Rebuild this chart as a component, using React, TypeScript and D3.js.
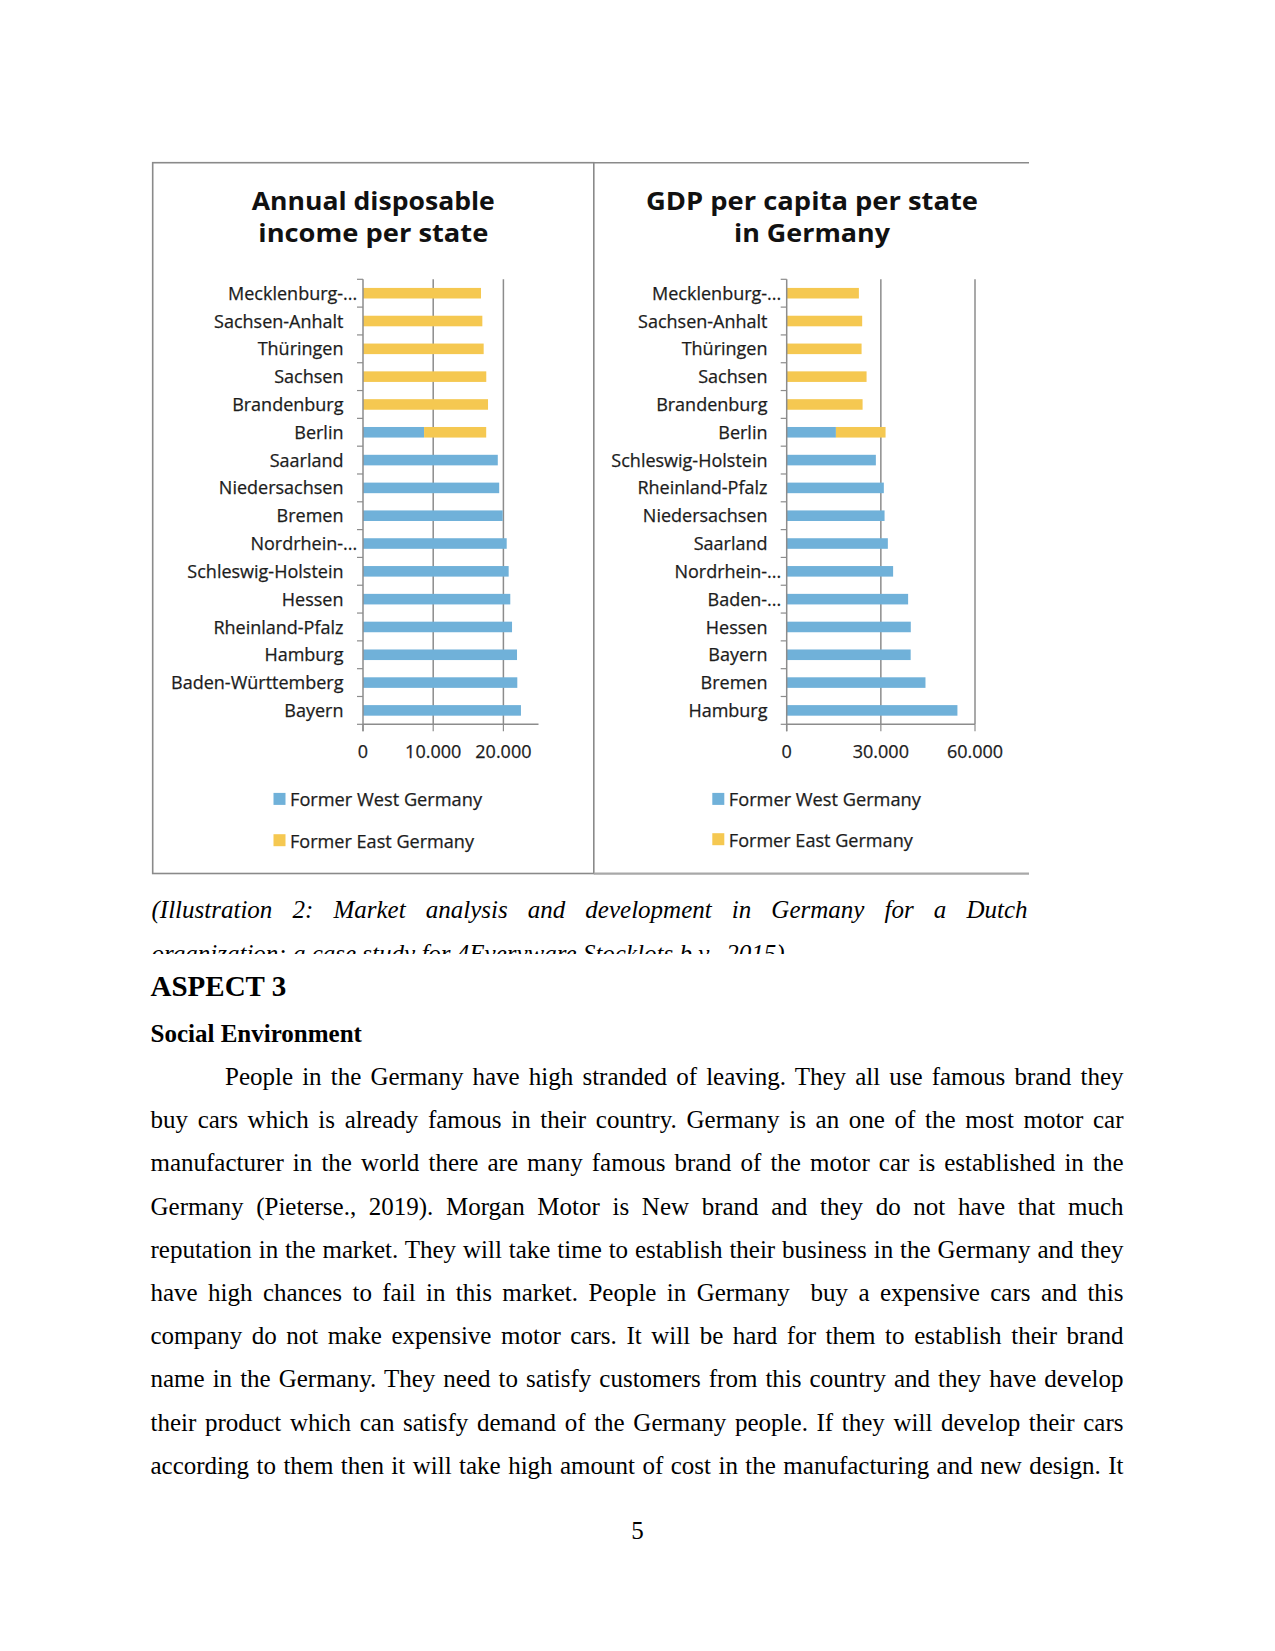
import React, { useEffect, useRef } from "react";
import * as d3 from "d3";

// ---------- DATA ----------
const incomeStates = [
  "Mecklenburg-...", "Sachsen-Anhalt", "Thüringen", "Sachsen", "Brandenburg", "Berlin",
  "Saarland", "Niedersachsen", "Bremen", "Nordrhein-...", "Schleswig-Holstein", "Hessen",
  "Rheinland-Pfalz", "Hamburg", "Baden-Württemberg", "Bayern",
];
const incomeWest = [0, 0, 0, 0, 0, 8700, 19200, 19400, 19900, 20470, 20750, 20980, 21230, 21940, 21980, 22500];
const incomeEast = [16810, 17000, 17190, 17560, 17810, 8850, 0, 0, 0, 0, 0, 0, 0, 0, 0, 0];
const incomeTicks = [0, 10000, 20000];
const incomeMax = 25000;

const gdpStates = [
  "Mecklenburg-...", "Sachsen-Anhalt", "Thüringen", "Sachsen", "Brandenburg", "Berlin",
  "Schleswig-Holstein", "Rheinland-Pfalz", "Niedersachsen", "Saarland", "Nordrhein-...",
  "Baden-...", "Hessen", "Bayern", "Bremen", "Hamburg",
];
const gdpWest = [0, 0, 0, 0, 0, 15680, 28410, 30950, 31180, 32230, 33910, 38690, 39540, 39500, 44220, 54400];
const gdpEast = [23000, 24050, 23860, 25450, 24180, 15820, 0, 0, 0, 0, 0, 0, 0, 0, 0, 0];
const gdpTicks = [0, 30000, 60000];
const gdpMax = 60000;

const seriesKeys = ["west", "east"];
const seriesNames = ["Former West Germany", "Former East Germany"];
const seriesColors = ["#70b1d9", "#f5c851"];
const legendTextWidths = [192, 184];

const incomeTitle = ["Annual disposable", "income per state"];
const incomeTitleWidths = [243, 230];
const gdpTitle = ["GDP per capita per state", "in Germany"];
const gdpTitleWidths = [332, 156];

const captionLine1 = "(Illustration 2: Market analysis and development in Germany for a Dutch";
const captionLine2 = "organization: a case study for 4Everyware Stocklots b.v., 2015)";
const headingText = "ASPECT 3";
const subheadingText = "Social Environment";
const bodyLines = [
  "People in the Germany have high stranded of leaving. They all use famous brand they",
  "buy cars which is already famous in their country. Germany is an one of the most motor car",
  "manufacturer in the world there are many famous brand of the motor car is established in the",
  "Germany (Pieterse., 2019). Morgan Motor is New brand and they do not have that much",
  "reputation in the market. They will take time to establish their business in the Germany and they",
  "have high chances to fail in this market. People in Germany  buy a expensive cars and this",
  "company do not make expensive motor cars. It will be hard for them to establish their brand",
  "name in the Germany. They need to satisfy customers from this country and they have develop",
  "their product which can satisfy demand of the Germany people. If they will develop their cars",
  "according to them then it will take high amount of cost in the manufacturing and new design. It",
];
const pageNumber = "5";

// ---------- HELPERS ----------
const fmtTick = (v: number) => (v === 0 ? "0" : d3.format(",")(v).replace(/,/g, "."));
const CHART_FONT = "'Open Sans', 'Noto Sans', sans-serif";
const SERIF = "'Liberation Serif', 'Times New Roman', serif";
const LABEL_COLOR = "#1c1c1c";

type PanelProps = {
  states: string[];
  west: number[];
  east: number[];
  ticks: number[];
  max: number;
  x0: number;
  x1: number;
  labelRight: number;
  title: string[];
  titleWidths: number[];
  titleX: number;
  legendX: number;
  legendY: number[];
};

function Panel(p: PanelProps) {
  const top = 279.3;
  const bottom = 724.3;
  const x = d3.scaleLinear().domain([0, p.max]).range([p.x0, p.x1]);
  const y = d3
    .scaleBand<string>()
    .domain(p.states)
    .range([top, bottom])
    .paddingInner(0.62)
    .paddingOuter(0.31);
  const rows = p.states.map((s, i) => ({ state: s, west: p.west[i], east: p.east[i] }));
  const stacked = d3.stack<any>().keys(seriesKeys)(rows);
  const boundaries = d3.range(p.states.length + 1).map((i) => y.range()[0] + i * y.step());
  const axisColor = "#8c8c8c";

  return (
    <g>
      {/* title */}
      {p.title.map((t, i) => (
        <text
          key={t}
          x={p.titleX}
          y={210 + i * 31.7}
          textAnchor="middle"
          fontFamily={CHART_FONT}
          fontWeight={700}
          fontSize={25.5}
          fill="#111"
          textLength={p.titleWidths[i]}
          lengthAdjust="spacingAndGlyphs"
        >
          {t}
        </text>
      ))}
      {/* gridlines */}
      {p.ticks
        .filter((t) => t > 0)
        .map((t) => (
          <line key={"g" + t} x1={x(t)} x2={x(t)} y1={top} y2={bottom} stroke={axisColor} strokeWidth={1.5} />
        ))}
      {/* bars */}
      {stacked.map((series, si) =>
        series.map((d: any) =>
          d[1] - d[0] > 0 ? (
            <rect
              key={si + "-" + d.data.state}
              x={x(d[0])}
              y={y(d.data.state)}
              width={x(d[1]) - x(d[0])}
              height={y.bandwidth()}
              fill={seriesColors[si]}
            />
          ) : null
        )
      )}
      {/* y axis */}
      <line x1={p.x0} x2={p.x0} y1={top} y2={bottom + 7} stroke={axisColor} strokeWidth={1.5} />
      {boundaries.map((b, i) => (
        <line key={"yt" + i} x1={p.x0 - 6} x2={p.x0} y1={b} y2={b} stroke={axisColor} strokeWidth={1.2} />
      ))}
      {/* x axis */}
      <line x1={p.x0} x2={p.x1} y1={bottom} y2={bottom} stroke={axisColor} strokeWidth={1.5} />
      {p.ticks.map((t) => (
        <line key={"xt" + t} x1={x(t)} x2={x(t)} y1={bottom} y2={bottom + 7} stroke={axisColor} strokeWidth={1.2} />
      ))}
      {p.ticks.map((t) => (
        <text
          key={"xl" + t}
          x={x(t)}
          y={758.3}
          textAnchor="middle"
          fontFamily={CHART_FONT}
          fontSize={18}
          fill={LABEL_COLOR}
          stroke={LABEL_COLOR}
          strokeWidth={0.25}
        >
          {fmtTick(t)}
        </text>
      ))}
      {/* category labels */}
      {p.states.map((s) => {
        const truncated = s.endsWith("...");
        return (
          <text
            key={"cl" + s}
            x={truncated ? p.labelRight + 13.8 : p.labelRight}
            y={(y(s) as number) + y.bandwidth() / 2 + 6.6}
            textAnchor="end"
            fontFamily={CHART_FONT}
            fontSize={18}
            fill={LABEL_COLOR}
            stroke={LABEL_COLOR}
            strokeWidth={0.25}
          >
            {s}
          </text>
        );
      })}
      {/* legend */}
      {seriesNames.map((n, i) => (
        <g key={n}>
          <rect x={p.legendX} y={p.legendY[i] - 13.3} width={12} height={12} fill={seriesColors[i]} />
          <text
            x={p.legendX + 16.5}
            y={p.legendY[i]}
            fontFamily={CHART_FONT}
            fontSize={18}
            fill={LABEL_COLOR}
            stroke={LABEL_COLOR}
            strokeWidth={0.25}
            textLength={legendTextWidths[i]}
            lengthAdjust="spacingAndGlyphs"
          >
            {n}
          </text>
        </g>
      ))}
    </g>
  );
}

export default function App() {
  const ref = useRef<SVGSVGElement>(null);

  useEffect(() => {
    const justify = () => {
      const svg = ref.current;
      if (!svg) return;
      svg.querySelectorAll("text[data-jw]").forEach((node) => {
        const t = node as SVGTextElement;
        const target = +(t.getAttribute("data-jw") || 0);
        t.style.wordSpacing = "0px";
        const len = t.getComputedTextLength();
        const spaces = ((t.textContent || "").match(/ /g) || []).length;
        if (spaces > 0) t.style.wordSpacing = (target - len) / spaces + "px";
      });
    };
    justify();
    if ((document as any).fonts && (document as any).fonts.ready) {
      (document as any).fonts.ready.then(justify);
    }
  }, []);

  const textLeft = 150.5;
  const textRight = 1123.5;
  const lineStep = 43.2;

  return (
    <svg
      ref={ref}
      width={1275}
      height={1651}
      viewBox="0 0 1275 1651"
      style={{ position: "absolute", left: 0, top: 0, background: "#fff" }}
    >
      <rect x={0} y={0} width={1275} height={1651} fill="#fff" />
      <defs>
        <clipPath id="capclip">
          <rect x={0} y={880} width={1275} height={74} />
        </clipPath>
      </defs>

      {/* panel frames */}
      <rect x={152.7} y={162.7} width={441.1} height={710.8} fill="none" stroke="#8a8a8a" strokeWidth={1.6} />
      <line x1={593.8} x2={1029} y1={162.7} y2={162.7} stroke="#8a8a8a" strokeWidth={1.4} />
      <line x1={593.8} x2={1029} y1={873.6} y2={873.6} stroke="#a8a8a8" strokeWidth={2.4} />

      <Panel
        states={incomeStates}
        west={incomeWest}
        east={incomeEast}
        ticks={incomeTicks}
        max={incomeMax}
        x0={363}
        x1={538.5}
        labelRight={343.5}
        title={incomeTitle}
        titleWidths={incomeTitleWidths}
        titleX={373.3}
        legendX={273.5}
        legendY={[806.2, 847.5]}
      />
      <Panel
        states={gdpStates}
        west={gdpWest}
        east={gdpEast}
        ticks={gdpTicks}
        max={gdpMax}
        x0={786.7}
        x1={975}
        labelRight={767.5}
        title={gdpTitle}
        titleWidths={gdpTitleWidths}
        titleX={812}
        legendX={712.3}
        legendY={[806.2, 846.5]}
      />

      {/* caption */}
      <text
        data-jw={1027.5 - 151.5}
        x={151.5}
        y={918.3}
        fontFamily={SERIF}
        fontStyle="italic"
        fontSize={25}
        fill="#000"
        style={{ whiteSpace: "pre" }}
      >
        {captionLine1}
      </text>
      <g clipPath="url(#capclip)">
        <text x={151.5} y={961.5} fontFamily={SERIF} fontStyle="italic" fontSize={25} fill="#000">
          {captionLine2}
        </text>
      </g>

      {/* heading */}
      <text x={textLeft} y={995.5} fontFamily={SERIF} fontWeight={700} fontSize={29} fill="#000">
        {headingText}
      </text>
      <text x={textLeft} y={1041.8} fontFamily={SERIF} fontWeight={700} fontSize={25} fill="#000">
        {subheadingText}
      </text>

      {/* body */}
      {bodyLines.map((line, i) => {
        const left = i === 0 ? 225 : textLeft;
        return (
          <text
            key={"b" + i}
            data-jw={textRight - left}
            x={left}
            y={1085 + i * lineStep}
            fontFamily={SERIF}
            fontSize={25}
            fill="#000"
            style={{ whiteSpace: "pre" }}
          >
            {line}
          </text>
        );
      })}

      <text x={637.5} y={1539.3} textAnchor="middle" fontFamily={SERIF} fontSize={25} fill="#000">
        {pageNumber}
      </text>
    </svg>
  );
}
